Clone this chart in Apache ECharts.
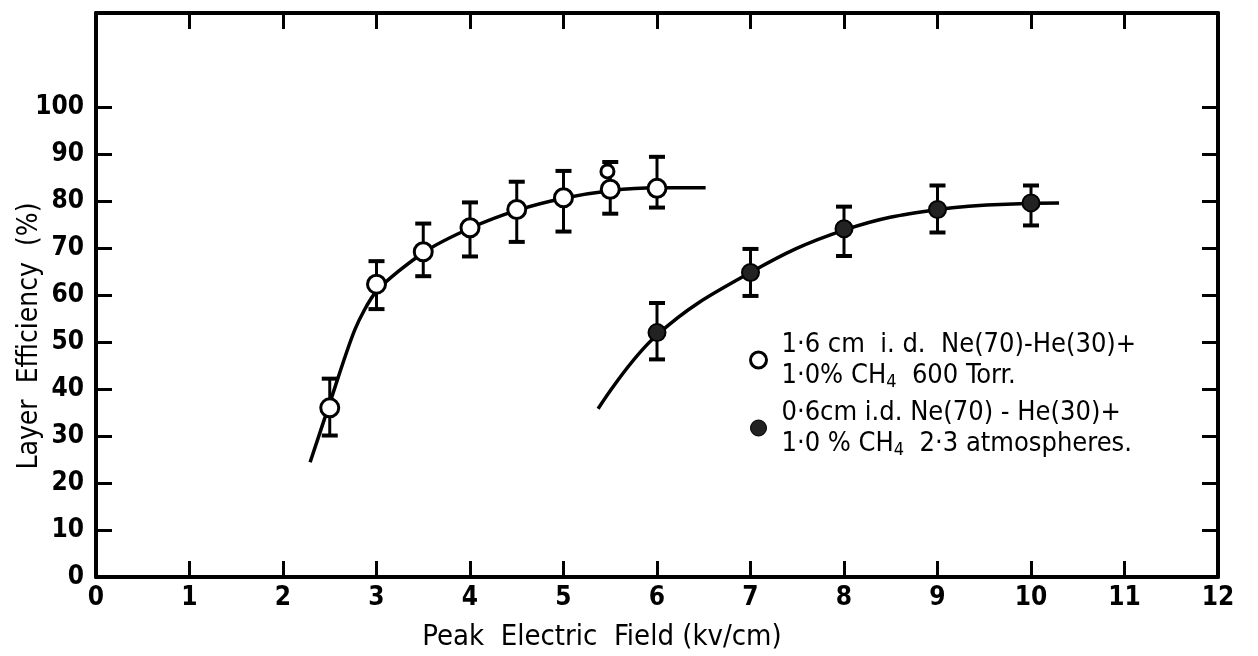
<!DOCTYPE html>
<html>
<head>
<meta charset="utf-8">
<script src="https://cdn.jsdelivr.net/npm/echarts@6/dist/echarts.min.js"></script>
<style>
html,body{margin:0;padding:0;background:#fff;}
#chart{width:1258px;height:656px;}
</style>
</head>
<body>
<div id="chart"></div>
<script>
// ---- data ----
const xTickValues = [0,1,2,3,4,5,6,7,8,9,10,11,12];
const yTickValues = [0,10,20,30,40,50,60,70,80,90,100];

// 1.6 cm i.d., 600 Torr (open circles)
const fieldOpen   = [2.5, 3.0, 3.5, 4.0, 4.5, 5.0, 5.5, 6.0];
const effOpen     = [36.0, 62.3, 69.2, 74.3, 78.2, 80.7, 82.5, 82.7];
const errLowOpen  = [30.1, 57.0, 64.0, 68.2, 71.3, 73.5, 77.3, 78.6];
const errHighOpen = [42.2, 67.2, 75.2, 79.7, 84.1, 86.4, 88.3, 89.4];
const extraOpenX  = [5.47];
const extraOpenY  = [86.3];

// 0.6 cm i.d., 2.3 atmospheres (filled circles)
const fieldFilled   = [6, 7, 8, 9, 10];
const effFilled     = [52.0, 64.8, 74.1, 78.2, 79.6];
const errLowFilled  = [46.3, 59.8, 68.3, 73.3, 74.8];
const errHighFilled = [58.3, 69.8, 78.8, 83.3, 83.3];

// hand-drawn fitted curves (knots)
const curveOpenX   = [2.29, 2.5, 2.77, 3.0, 3.5, 4.0, 4.5, 5.0, 5.5, 6.0, 6.52];
const curveOpenY   = [24.4, 37.0, 52.7, 60.8, 69.0, 74.2, 78.0, 80.6, 82.2, 82.8, 82.8];
const curveFilledX = [5.37, 6.0, 7.0, 8.0, 9.0, 10.0, 10.3];
const curveFilledY = [35.8, 51.5, 64.8, 73.8, 78.2, 79.5, 79.6];

const legendLines = {
  open:   ['1·6 cm  i. d.  Ne(70)-He(30)+', '1·0% CH{sub|4}  600 Torr.'],
  filled: ['0·6cm i.d. Ne(70) - He(30)+', '1·0 % CH{sub|4}  2·3 atmospheres.']
};

const FONT = '"DejaVu Sans Condensed", "DejaVu Sans", sans-serif';

function zip(a, b) { return a.map((v, i) => [v, b[i]]); }
function zip3(a, b, c) { return a.map((v, i) => [v, b[i], c[i]]); }

function errRender(params, api) {
  const x = api.value(0), lo = api.value(1), hi = api.value(2);
  const t = api.coord([x, hi]), b = api.coord([x, lo]);
  const w = 8;
  const st = {stroke: '#000', lineWidth: 3};
  return {type: 'group', children: [
    {type: 'line', shape: {x1: t[0], y1: t[1], x2: b[0], y2: b[1]}, style: st},
    {type: 'line', shape: {x1: t[0]-w, y1: t[1], x2: t[0]+w, y2: t[1]}, style: {stroke:'#000', lineWidth: 4}},
    {type: 'line', shape: {x1: b[0]-w, y1: b[1], x2: b[0]+w, y2: b[1]}, style: {stroke:'#000', lineWidth: 4}}
  ]};
}

const chart = echarts.init(document.getElementById('chart'), null, {renderer: 'canvas'});

const axisLineStyle = {color: '#000', width: 4};
const tickStyle = {color: '#000', width: 3};
const inner = xTickValues.slice(1, -1);
const innerY = yTickValues.slice(1);

const option = {
  backgroundColor: '#fff',
  animation: false,
  grid: {left: 96, right: 40, top: 13, bottom: 79},
  xAxis: [
    {type: 'value', min: 0, max: 12, interval: 1, position: 'bottom',
     axisLine: {show: true, onZero: false, lineStyle: axisLineStyle},
     axisTick: {show: true, inside: true, length: 16, lineStyle: tickStyle, customValues: inner},
     axisLabel: {show: true, color: '#000', fontFamily: FONT, fontSize: 26, fontWeight: 'bold', margin: 8, customValues: xTickValues},
     splitLine: {show: false}},
    {type: 'value', min: 0, max: 12, interval: 1, position: 'top',
     axisLine: {show: true, onZero: false, lineStyle: axisLineStyle},
     axisTick: {show: true, inside: true, length: 16, lineStyle: tickStyle, customValues: inner},
     axisLabel: {show: false},
     splitLine: {show: false}}
  ],
  yAxis: [
    {type: 'value', min: 0, max: 120, interval: 10, position: 'left',
     axisLine: {show: true, onZero: false, lineStyle: axisLineStyle},
     axisTick: {show: true, inside: true, length: 16, lineStyle: tickStyle, customValues: innerY},
     axisLabel: {show: true, color: '#000', fontFamily: FONT, fontSize: 26, fontWeight: 'bold', margin: 12, customValues: yTickValues},
     splitLine: {show: false}},
    {type: 'value', min: 0, max: 120, interval: 10, position: 'right',
     axisLine: {show: true, onZero: false, lineStyle: axisLineStyle},
     axisTick: {show: true, inside: true, length: 16, lineStyle: tickStyle, customValues: innerY},
     axisLabel: {show: false},
     splitLine: {show: false}}
  ],
  legend: {
    orient: 'vertical', left: 744, top: 324, itemGap: 6,
    itemWidth: 16, itemHeight: 16,
    data: [
      {name: 'open', icon: 'circle', itemStyle: {color: '#fff', borderColor: '#000', borderWidth: 3}},
      {name: 'filled', icon: 'circle', itemStyle: {color: '#222', borderColor: '#000', borderWidth: 1}}
    ],
    formatter: function (name) { return legendLines[name].join('\n'); },
    textStyle: {
      fontFamily: FONT, fontSize: 27, color: '#000', lineHeight: 31, padding: [0, 0, 0, 10],
      rich: {sub: {fontFamily: FONT, fontSize: 18, color: '#000', verticalAlign: 'bottom', padding: [14, 0, 0, 0], lineHeight: 31}}
    }
  },
  graphic: [
    {type: 'text', x: 30, y: 336, rotation: Math.PI / 2,
     style: {text: 'Layer  Efficiency  (%)', fontFamily: FONT, fontSize: 28, fill: '#000', align: 'center', verticalAlign: 'middle'}},
    {type: 'text', x: 602, y: 637,
     style: {text: 'Peak  Electric  Field (kv/cm)', fontFamily: FONT, fontSize: 29, fill: '#000', align: 'center', verticalAlign: 'middle'}}
  ],
  series: [
    {name: 'curveOpen', type: 'line', data: zip(curveOpenX, curveOpenY), smooth: 0.25, showSymbol: false,
     lineStyle: {color: '#000', width: 3.5}, z: 2, silent: true},
    {name: 'curveFilled', type: 'line', data: zip(curveFilledX, curveFilledY), smooth: 0.4, showSymbol: false,
     lineStyle: {color: '#000', width: 3.5}, z: 2, silent: true},
    {name: 'errOpen', type: 'custom', renderItem: errRender, data: zip3(fieldOpen, errLowOpen, errHighOpen), z: 3},
    {name: 'errFilled', type: 'custom', renderItem: errRender, data: zip3(fieldFilled, errLowFilled, errHighFilled), z: 3},
    {name: 'open', type: 'scatter', data: zip(fieldOpen, effOpen), symbol: 'circle', symbolSize: 18,
     itemStyle: {color: '#fff', borderColor: '#000', borderWidth: 3, opacity: 1}, z: 5},
    {name: 'openExtra', type: 'scatter', data: zip(extraOpenX, extraOpenY), symbol: 'circle', symbolSize: 13,
     itemStyle: {color: '#fff', borderColor: '#000', borderWidth: 3, opacity: 1}, z: 5},
    {name: 'filled', type: 'scatter', data: zip(fieldFilled, effFilled), symbol: 'circle', symbolSize: 17,
     itemStyle: {color: '#222', borderColor: '#000', borderWidth: 2, opacity: 1}, z: 5}
  ]
};
chart.setOption(option);
</script>
</body>
</html>
